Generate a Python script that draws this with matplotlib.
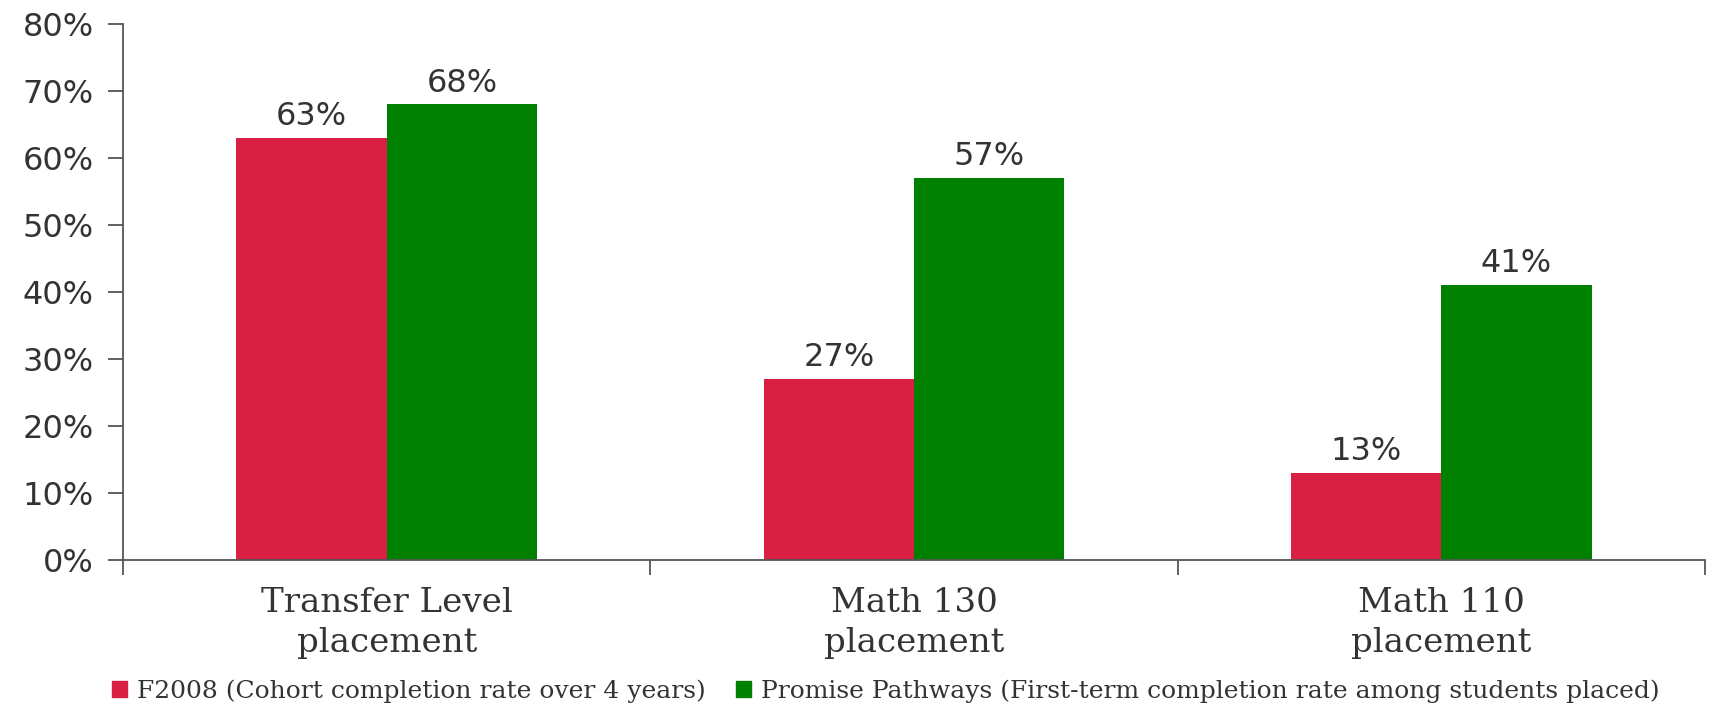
import numpy as np
import matplotlib
matplotlib.use('Agg')
import matplotlib.pyplot as plt
from matplotlib.patches import Patch

# data
categories = ['Transfer Level\nplacement', 'Math 130\nplacement', 'Math 110\nplacement']
f2008 = [63, 27, 13]
promise = [68, 57, 41]
series_names = ['F2008 (Cohort completion rate over 4 years)',
                'Promise Pathways (First-term completion rate among students placed)']
yticks = [0, 10, 20, 30, 40, 50, 60, 70, 80]

red = '#D91F43'
green = '#008000'
txt = '#333333'
axc = '#555555'

fig = plt.figure(figsize=(17.1, 7.03), dpi=100)
ax = fig.add_axes([0.072, 0.204, 0.925, 0.762])

x = np.arange(len(categories))
w = 0.285
b1 = ax.bar(x - w / 2, f2008, w, color=red)
b2 = ax.bar(x + w / 2, promise, w, color=green)

for bars in (b1, b2):
    for r in bars:
        ax.annotate('%d%%' % r.get_height(),
                    (r.get_x() + r.get_width() / 2, r.get_height()),
                    xytext=(0, 4), textcoords='offset points',
                    ha='center', va='bottom', fontsize=23, color=txt)

ax.set_xlim(-0.5, len(categories) - 0.5)
ax.set_ylim(0, 80)
ax.set_yticks(yticks)
ax.set_yticklabels(['%d%%' % v for v in yticks], fontsize=23, color=txt)

ax.set_xticks(x)
ax.set_xticklabels(categories, fontsize=24.5, color=txt, family='DejaVu Serif',
                   linespacing=1.3)
ax.set_xticks(np.arange(len(categories) + 1) - 0.5, minor=True)
ax.tick_params(axis='x', which='major', length=0, pad=20)
ax.tick_params(axis='x', which='minor', length=11, width=1.3, color=axc)
ax.tick_params(axis='y', length=11, width=1.3, color=axc, pad=10)

for s in ['top', 'right']:
    ax.spines[s].set_visible(False)
for s in ['left', 'bottom']:
    ax.spines[s].set_color(axc)
    ax.spines[s].set_linewidth(1.3)

handles = [Patch(color=red), Patch(color=green)]
fig.legend(handles, series_names, loc='lower center', bbox_to_anchor=(0.518, -0.032),
           ncol=2, frameon=False, handlelength=0.6, handleheight=0.6,
           handletextpad=0.4, columnspacing=1.2,
           prop={'family': 'DejaVu Serif', 'size': 18}, labelcolor=txt)

fig.savefig('out.png', dpi=100)
